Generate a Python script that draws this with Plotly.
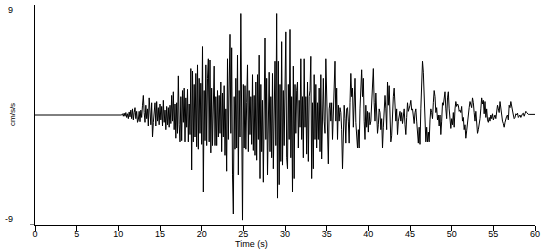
import numpy as np
import plotly.graph_objects as go

quiet_t = [0.0, 9.9]
quiet_v = [0.0, 0.0]

acc_10_20 = [
    0, 0, 0, 0, 0, 0.1, -0.1, 0.15, -0.1, 0.2,
    -0.2, 0.1, -0.3, 0.25, -0.15, 0.4, -0.3, 0.5, -0.4, 0.2,
    0.6, -0.3, 0.3, -0.6, -0.4, 0.3, -0.55, 0.4, -0.2, 0.8,
    1.6, 0.2, -0.6, 0.8, -0.3, 0.5, -0.9, 1.4, 0.3, -0.8,
    1.0, -1.8, -0.6, 0.5, 1.0, -0.9, 1.1, -0.5, 0.6, -0.8,
    0.9, -0.4, 0.7, -0.9, 1.2, -0.6, 0.4, -1.2, 0.7, -0.8,
    0.6, -1.0, 0.8, -0.7, 1.6, -0.5, 1.9, -1.2, 0.9, -1.9,
    1.0, -1.5, 3.2, -0.8, -2.2, 1.5, -2.1, 2.0, -0.6, 2.2,
    -2.2, 1.4, -1.0, 2.1, -2.2, 0.9, -1.6, 3.8, -4.5, 3.6,
    -2.2, 2.5, -1.8, 3.4, -2.6, 4.1, -2.8, 3.0, -1.5, 2.6,
]
acc_20_30 = [
    -2.4, 5.6, -6.3, 2.0, -2.1, 4.1, -2.5, 3.0, 4.6, -2.2,
    4.5, -3.1, 2.2, -2.5, 3.1, 4.0, -2.5, 1.5, -2.5, 2.0,
    -1.8, 1.6, -1.5, 2.7, -3.0, 1.8, -1.8, 2.4, -3.3, 0.5,
    -4.6, 4.6, -2.0, 1.5, 6.6, -1.5, 5.5, -4.9, -8.1, 1.5,
    -2.8, 3.0, -2.7, 4.9, -4.9, 2.0, -1.8, 8.3, -3.0, -8.6,
    2.5, -2.7, 2.4, -2.8, 1.0, 4.1, -3.0, 2.0, -1.6, 1.5,
    -2.4, 3.3, -2.9, 1.6, -3.3, 2.7, -3.7, 3.3, -2.0, 4.9,
    -5.2, 2.5, -3.0, 1.2, -5.5, 3.5, 6.3, -2.0, 3.0, -4.9,
    2.5, 3.5, -3.0, 1.5, -3.5, 3.4, -4.4, 1.0, 4.4, -2.5,
    8.3, -6.8, 4.4, -5.7, 2.5, -3.8, 6.0, -4.1, 2.0, -2.5,
]
acc_30_40 = [
    3.5, 6.8, -3.5, -4.4, 2.5, -2.0, 7.0, -3.5, 1.5, -6.3,
    4.0, -5.2, 2.5, -1.5, 2.0, 2.7, -2.7, 1.2, -1.0, 4.6,
    -2.0, 1.5, -3.5, 4.6, -1.0, 1.5, -3.2, 2.7, -3.8, 1.5,
    2.0, 4.8, -5.2, 1.0, -4.4, 3.3, -2.0, 2.5, -2.7, 1.0,
    -2.0, 2.2, -3.0, 3.3, -3.6, 1.0, 3.0, -0.5, -1.5, 4.6,
    1.0, -1.5, -4.0, 0.5, 1.0, -0.5, 1.0, -2.0, 0.0, 1.5,
    4.4, -0.5, 2.2, -2.0, 0.8, -0.5, 0.6, 0.2, -1.2, -4.4,
    -1.0, 0.8, -0.3, -2.3, 0.5, 0.6, -0.5, -2.3, 1.0, 3.4,
    1.5, 2.2, -1.0, 0.5, 3.0, -0.6, -1.5, -2.7, -1.2, -2.7,
    0.5, 3.0, 3.7, 1.5, 3.0, -0.5, -2.0, 0.8, -1.0, 0.3,
]
acc_40_50 = [
    -1.4, 0.2, -0.8, -0.5, 0.8, 2.0, 3.8, 1.0, -0.5, 1.8,
    -0.6, -1.5, -0.8, 0.5, 0.2, -1.2, -0.3, -2.7, -1.0, 0.8,
    1.6, 0.5, -1.2, 2.7, 0.8, 2.4, -0.5, -2.2, -1.7, 0.8,
    1.5, 2.2, 1.0, -0.5, 0.5, -1.6, -0.5, 0.2, 0.3, -0.5,
    0.2, -0.7, 0.0, 0.5, -0.8, -1.6, -0.2, 1.0, 0.3, 0.5,
    0.8, 1.2, 0.4, 0.5, -0.3, -0.7, 0.2, 0.5, -0.5, -1.3,
    -2.3, -1.0, -2.4, 0.5, 2.5, 4.4, 3.5, 1.5, -0.5, -2.2,
    -1.0, -2.2, -1.4, -2.2, -0.4, 0.5, 0.2, -0.3, 1.0, 2.0,
    1.5, 0.2, 0.6, -0.4, 0.0, -0.9, 0.0, -1.6, -0.5, 1.0,
    0.8, 1.3, 1.9, 0.5, -0.3, 1.4, 1.9, 0.5, -0.5, -1.1,
]
acc_50_60 = [
    -0.3, -0.8, 0.2, -1.0, 0.5, 1.1, 0.7, 0.9, 0.8, 0.3,
    0.4, 0.2, 0.7, -0.5, -0.2, -1.2, -0.8, -1.9, -1.3, -0.5,
    0.2, 0.6, 1.1, 0.8, 0.6, 1.4, 1.0, 0.2, -0.5, 0.3,
    -0.8, -1.5, -1.2, -0.8, -0.3, 0.5, 1.4, 0.9, 1.2, 0.1,
    1.1, -0.2, 0.5, -0.4, -0.6, -0.2, -0.5, 0.0, -0.3, 0.1,
    -0.4, -0.2, 0.0, -0.3, 0.3, 0.8, 0.5, 0.2, 1.1, 0.4,
    -0.2, -0.5, -0.7, -1.0, -0.6, -0.3, -0.1, 0.0, -0.4, 0.8,
    0.6, 1.1, 0.6, 0.3, 0.0, -0.3, -0.2, 0.1, 0.0, 0.15,
    -0.2, -0.1, 0.0, -0.2, 0.05, 0.1, 0.15, -0.1, 0.1, 0.3,
    0.2, 0.1, 0.05, 0.05, 0.05, 0.05, 0.05, 0.05, 0.05, 0.05,
    0.05,
]

x_ticks = [0, 5, 10, 15, 20, 25, 30, 35, 40, 45, 50, 55, 60]
y_ticks = [-9, 9]
y_tick_labels = ["-9", "9"]

record = acc_10_20 + acc_20_30 + acc_30_40 + acc_40_50 + acc_50_60
t_rec = np.round(10.0 + 0.1 * np.arange(len(record)), 2)
t = list(quiet_t) + list(t_rec)
v = list(quiet_v) + record

FONT = "Liberation Sans"
PLOT_W, PLOT_H = 500, 220

fig = go.Figure()
fig.add_trace(go.Scatter(x=t, y=v, mode="lines",
                         line=dict(color="black", width=1),
                         hoverinfo="skip", showlegend=False))

fig.update_layout(
    width=550, height=250,
    margin=dict(l=35, r=15, t=5, b=25),
    paper_bgcolor="white", plot_bgcolor="white",
    font=dict(family=FONT, size=10, color="black"),
    xaxis=dict(range=[0, 60], tickvals=x_ticks, ticks="outside", ticklen=5,
               tickcolor="black", tickwidth=1, showline=True, linecolor="black",
               linewidth=1, showgrid=False, zeroline=False, automargin=False,
               tickfont=dict(size=9), ticklabelstandoff=-5),
    yaxis=dict(range=[-9, 9], tickvals=y_ticks, ticks="", showline=True,
               showticklabels=False,
               linecolor="black", linewidth=1, showgrid=False, zeroline=False,
               automargin=False),
)
# small tick at -9 where the x-axis line extends left of the y-axis
fig.add_shape(type="line", xref="paper", yref="y", x0=-5 / PLOT_W, x1=0, y0=-9, y1=-9,
              line=dict(color="black", width=1))
# y tick labels, placed like the original (nudged inside the axis ends)
for val, lab, shift in zip(y_ticks, y_tick_labels, [6, -5]):
    fig.add_annotation(text=lab, xref="paper", yref="y", x=-20 / PLOT_W, y=val,
                       xanchor="right", yanchor="middle", yshift=shift,
                       showarrow=False, font=dict(size=9))
fig.add_annotation(text="cm/s/s", xref="paper", yref="y", x=-23 / PLOT_W, y=0,
                   xanchor="center", yanchor="middle", textangle=-90,
                   showarrow=False, font=dict(size=8))
fig.add_annotation(text="Time (s)", xref="paper", yref="paper", x=(251 - 35) / PLOT_W,
                   y=-25 / PLOT_H, xanchor="center", yanchor="bottom",
                   showarrow=False, font=dict(size=9), borderpad=0)

fig.write_html("out.html")
